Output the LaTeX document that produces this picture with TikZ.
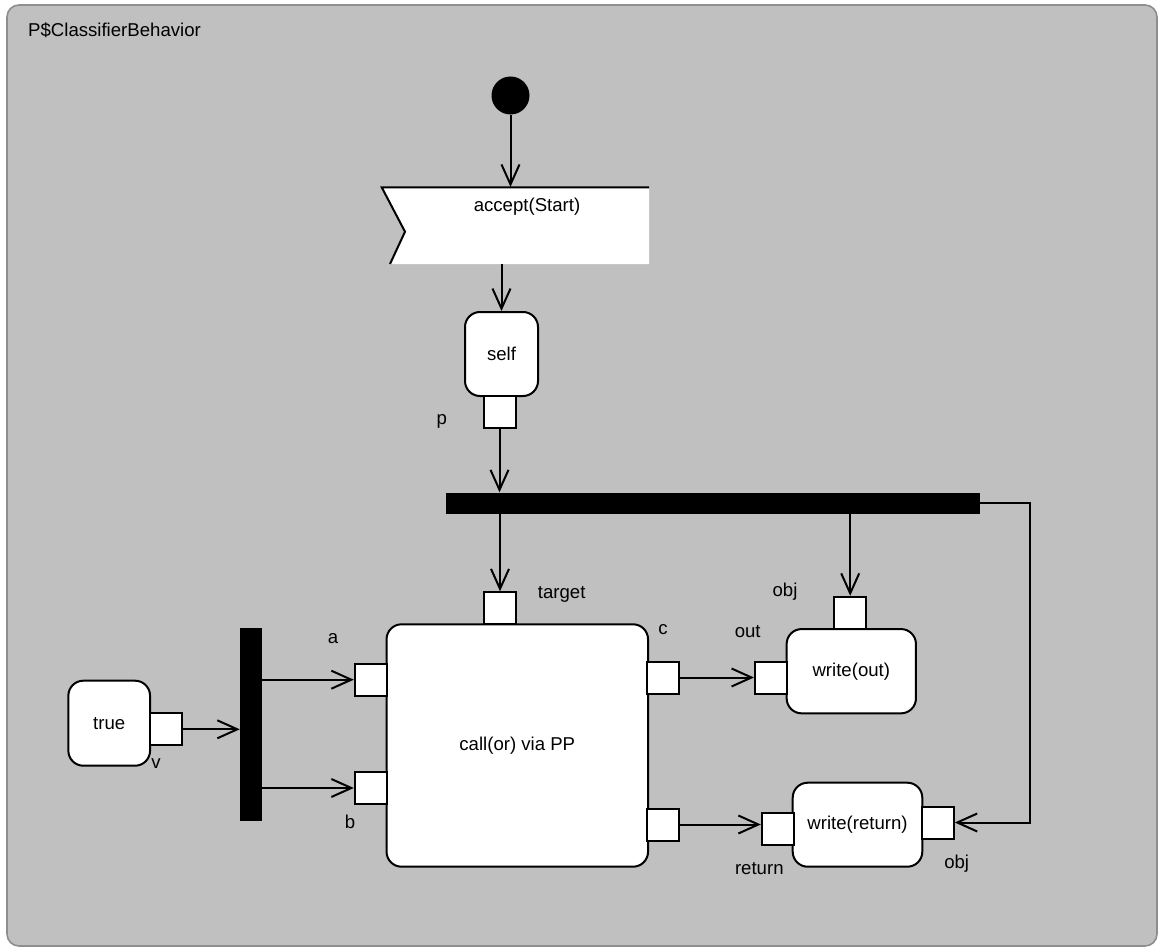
\documentclass[tikz,border=0pt]{standalone}
\usepackage{fontspec}
\setmainfont{Liberation Sans}
\usetikzlibrary{arrows.meta}
\definecolor{bg}{HTML}{C0C0C0}
\definecolor{frameline}{HTML}{8E8E8E}
\begin{document}
\begin{tikzpicture}[x=1pt,y=-1pt,
  every node/.style={font=\fontsize{18.6}{22}\selectfont},
  act/.style={draw, fill=white, line width=2pt, rounded corners=15pt, inner sep=0pt},
  pinbox/.style={draw, fill=white, line width=2pt, minimum width=32pt, minimum height=32pt, inner sep=0pt},
  barbox/.style={fill=black, inner sep=0pt},
  flow/.style={line width=2pt, -{Straight Barb[length=20pt,width=18pt]}},
  lbl/.style={inner sep=0pt}]
\useasboundingbox (0,0) rectangle (1159,952);
% frame
\draw[fill=bg, draw=frameline, line width=1.6pt, rounded corners=12pt] (7,5) rectangle (1157,946);
\node[lbl, anchor=west] (title) at (28,30) {P\$ClassifierBehavior};

% initial node
\node[circle, fill=black, minimum size=38pt, inner sep=0pt] (init) at (510.5,95.5) {};

% accept event
\node[inner sep=0pt, minimum width=267pt, minimum height=77pt] (accept) at (515.3,225.6) {};
\fill[white] (381.7,187.3) -- (649,187.3) -- (649,264) -- (390,264) -- (405,231.7) -- cycle;
\draw[line width=2pt] (649,187.3) -- (381.7,187.3) -- (405,231.7) -- (390,264);
\node[lbl] (accepttext) at (527,207) {accept(Start)};

% self
\node[act, minimum width=73pt, minimum height=84pt] (self) at (501.5,354) {self};
\node[pinbox] (p) at (499.5,412) {};
\node[lbl] (plbl) at (441.7,421.7) {p};

% fork bar
\node[barbox, minimum width=534pt, minimum height=21pt] (fork) at (713,503) {};

% call
\node[act, minimum width=261.5pt, minimum height=242.4pt] (call) at (517.3,745.5) {call(or) via PP};
\node[pinbox] (target) at (500,608.3) {};
\node[lbl] (targetlbl) at (561.7,594) {target};
\node[pinbox] (a) at (370.8,679.7) {};
\node[lbl] (albl) at (333,639) {a};
\node[pinbox] (b) at (370.8,788) {};
\node[lbl] (blbl) at (350,821.7) {b};
\node[pinbox] (c) at (663.3,677.5) {};
\node[lbl] (clbl) at (663,630) {c};
\node[pinbox] (ret) at (663.3,824.5) {};

% join bar
\node[barbox, minimum width=21.7pt, minimum height=192.4pt] (join) at (250.8,724.5) {};

% true
\node[act, minimum width=81.7pt, minimum height=85pt] (true) at (109.2,723.2) {true};
\node[pinbox] (v) at (165.8,729.3) {};
\node[lbl] (vlbl) at (156,764) {v};

% write(out)
\node[act, minimum width=129.3pt, minimum height=84.3pt] (wout) at (851.3,671.2) {write(out)};
\node[pinbox] (out) at (771,677.5) {};
\node[lbl] (outlbl) at (747.7,631.7) {out};
\node[pinbox] (objA) at (850.2,612.8) {};
\node[lbl] (objAlbl) at (785,591.7) {obj};

% write(return)
\node[act, minimum width=129.6pt, minimum height=84pt] (wret) at (857.5,824.7) {write(return)};
\node[pinbox] (retin) at (777.8,828.7) {};
\node[lbl] (retinlbl) at (759.3,868.3) {return};
\node[pinbox] (objB) at (937.8,822.5) {};
\node[lbl] (objBlbl) at (956.7,863.3) {obj};

% flows
\draw[flow] (init.south) -- (init.south |- accept.north);
\draw[flow] (self.north |- accept.south) -- (self.north);
\draw[flow] (p.south) -- (p.south |- fork.north);
\draw[flow] (target.north |- fork.south) -- (target.north);
\draw[flow] (objA.north |- fork.south) -- (objA.north);
\draw[flow] (fork.east) -- ++(50,0) |- (objB.east);
\draw[flow] (v.east) -- (v.east -| join.west);
\draw[flow] (a.west -| join.east) -- (a.west);
\draw[flow] (b.west -| join.east) -- (b.west);
\draw[flow] (c.east) -- (out.west);
\draw[flow] (ret.east) -- (ret.east -| retin.west);
\end{tikzpicture}
\end{document}
